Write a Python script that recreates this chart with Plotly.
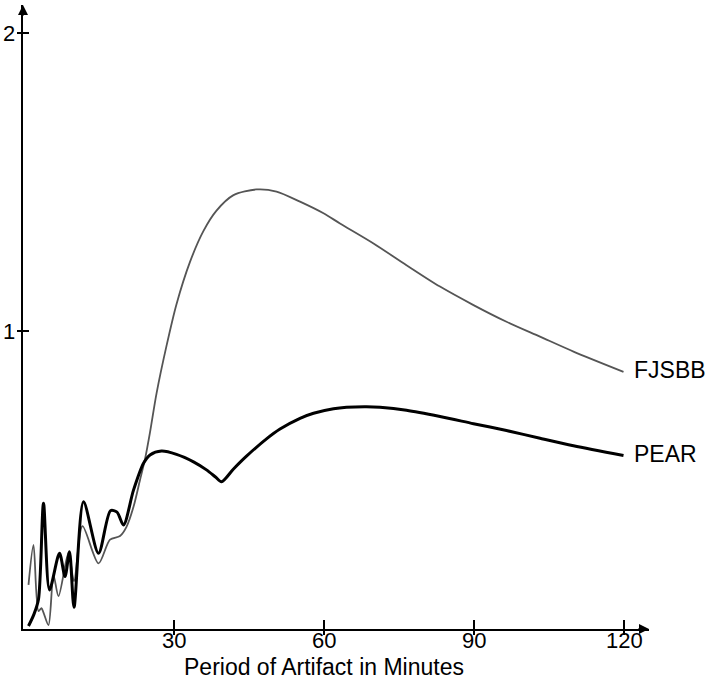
import plotly.graph_objects as go

# ---- data ----
fjsbb_x = [0.9, 1.9, 2.9, 3.5, 3.9, 4.9, 5.9, 6.9, 8.9, 10.0, 11.7, 14.9, 17.2, 19.2, 20.5,
           21.9, 23.2, 24.2, 25.2, 26.5, 28.5, 30.5, 33.2, 35.9, 38.5, 41.9, 46.5, 50.5,
           55.2, 59.9, 63.2, 69.9, 76.5, 83.2, 89.9, 96.5, 103.2, 109.9, 119.9]
fjsbb_y = [0.148, 0.282, 0.06, 0.07, 0.055, 0.013, 0.18, 0.11, 0.256, 0.16, 0.345, 0.22, 0.30,
           0.312, 0.343, 0.41, 0.50, 0.57, 0.66, 0.79, 0.95, 1.09, 1.232, 1.336, 1.404,
           1.456, 1.475, 1.468, 1.434, 1.395, 1.361, 1.294, 1.221, 1.149, 1.087, 1.031,
           0.981, 0.931, 0.863]

pear_x = [0.9, 2.0, 2.9, 3.9, 5.1, 7.1, 8.2, 9.1, 10.0, 11.9, 14.9, 17.3, 18.6, 19.9, 21.9,
          23.9, 25.2, 27.5, 30.5, 33.9, 36.5, 38.3, 39.5, 41.9, 44.5, 48.5, 51.2, 55.2,
          57.9, 61.9, 64.5, 68.5, 71.2, 76.5, 83.2, 89.9, 96.5, 103.2, 109.9, 119.9]
pear_y = [0.01, 0.05, 0.10, 0.422, 0.131, 0.254, 0.176, 0.259, 0.073, 0.427, 0.254, 0.397,
          0.392, 0.349, 0.466, 0.556, 0.584, 0.597, 0.586, 0.561, 0.534, 0.51, 0.494, 0.537,
          0.580, 0.638, 0.671, 0.707, 0.724, 0.739, 0.744, 0.746, 0.744, 0.734, 0.713, 0.689,
          0.666, 0.640, 0.615, 0.582]

x_ticks = [30, 60, 90, 120]
y_ticks = [1, 2]
x_title = "Period of Artifact in Minutes"
series_names = ["FJSBB", "PEAR"]

FONT = "Arial, Liberation Sans, Helvetica, sans-serif"

fig = go.Figure()
fig.add_trace(go.Scatter(x=fjsbb_x, y=fjsbb_y, mode="lines", name=series_names[0],
                         line=dict(color="#555555", width=1.8, shape="spline", smoothing=0.8)))
fig.add_trace(go.Scatter(x=pear_x, y=pear_y, mode="lines", name=series_names[1],
                         line=dict(color="#000000", width=3, shape="spline", smoothing=0.8)))

xr = [-0.2, 125]
yr = [0, 2.094]

fig.update_layout(
    width=708, height=686,
    margin=dict(l=23, r=59, t=5, b=57, autoexpand=False),
    paper_bgcolor="white", plot_bgcolor="white",
    showlegend=False,
    font=dict(family=FONT, size=22, color="#000"),
    xaxis=dict(range=xr, showgrid=False, zeroline=False, showline=True, linecolor="#000",
               linewidth=2, ticks="outside", ticklen=4, tickwidth=2, tickcolor="#000",
               tickmode="array", tickvals=x_ticks, showticklabels=False, automargin=False),
    yaxis=dict(range=yr, showgrid=False, zeroline=False, showline=True, linecolor="#000",
               linewidth=2, ticks="outside", ticklen=4, tickwidth=2, tickcolor="#000",
               tickmode="array", tickvals=y_ticks, showticklabels=False, automargin=False),
    xaxis2=dict(range=xr, overlaying="x", side="bottom", anchor="y", showgrid=False,
                zeroline=False, showline=False, ticks="inside", ticklen=9, tickwidth=2,
                tickcolor="#000", tickmode="array", tickvals=x_ticks, showticklabels=False,
                automargin=False),
    yaxis2=dict(range=yr, overlaying="y", side="left", anchor="x", showgrid=False,
                zeroline=False, showline=False, ticks="inside", ticklen=6, tickwidth=2,
                tickcolor="#000", tickmode="array", tickvals=y_ticks, showticklabels=False,
                automargin=False),
)

# invisible trace to activate secondary axes
fig.add_trace(go.Scatter(x=[None], y=[None], xaxis="x2", yaxis="y2", showlegend=False,
                         hoverinfo="skip"))

annotations = []
for v in x_ticks:
    annotations.append(dict(x=v, xref="x", y=0, yref="paper", yshift=-11, text=str(v),
                            showarrow=False, xanchor="center", yanchor="middle",
                            font=dict(size=22)))
for v in y_ticks:
    annotations.append(dict(x=0, xref="paper", y=v, yref="y", xshift=-6, text=str(v),
                            showarrow=False, xanchor="right", yanchor="middle",
                            font=dict(size=22)))
annotations += [
    dict(x=60, xref="x", y=0, yref="paper", yshift=-38, text=x_title, showarrow=False,
         xanchor="center", yanchor="middle", font=dict(size=23)),
    dict(x=fjsbb_x[-1], xref="x", y=fjsbb_y[-1], yref="y", xshift=8, yshift=2,
         text=series_names[0], showarrow=False, xanchor="left", yanchor="middle",
         font=dict(size=23)),
    dict(x=pear_x[-1], xref="x", y=pear_y[-1], yref="y", xshift=8, yshift=2,
         text=series_names[1], showarrow=False, xanchor="left", yanchor="middle",
         font=dict(size=23)),
    # arrowheads at axis ends
    dict(x=1, xref="paper", y=0, yref="paper", ax=-12, ay=0, axref="pixel", ayref="pixel",
         text="", showarrow=True, arrowhead=2, arrowsize=1, arrowwidth=2, arrowcolor="#000"),
    dict(x=0, xref="paper", y=1, yref="paper", ax=0, ay=12, axref="pixel", ayref="pixel",
         text="", showarrow=True, arrowhead=2, arrowsize=1, arrowwidth=2, arrowcolor="#000"),
]
fig.update_layout(annotations=annotations)

fig.write_html("out.html", config={"displayModeBar": False},
               post_script="document.body.style.margin='0';document.body.style.overflow='hidden';")
